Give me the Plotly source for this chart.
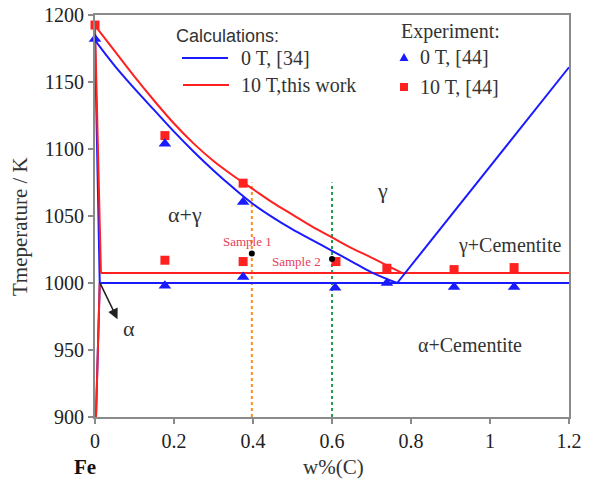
import plotly.graph_objects as go

# ---- Data ----
# Calculated boundaries, 0 T [34]
calc0_a3_x = [0, 0.05, 0.1, 0.15, 0.2, 0.25, 0.3, 0.35, 0.4, 0.45, 0.5, 0.55, 0.6, 0.65, 0.7, 0.765]
calc0_a3_T = [1181, 1162, 1145, 1129, 1113, 1098, 1084, 1071, 1059, 1049, 1040, 1032, 1024, 1016, 1008, 1000]
calc0_acm_x = [0.765, 1.2]
calc0_acm_T = [1000, 1161]
calc0_left_x = [0, 0.012]
calc0_left_T = [1181, 1000]
calc0_solvus_x = [0.012, 0.0025]
calc0_solvus_T = [1000, 900]
calc0_eut_x = [0.012, 1.2]
calc0_eut_T = [1000, 1000]

# Calculated boundaries, 10 T (this work)
calc10_a3_x = [0, 0.05, 0.1, 0.15, 0.2, 0.25, 0.3, 0.35, 0.4, 0.45, 0.5, 0.55, 0.6, 0.65, 0.7, 0.777]
calc10_a3_T = [1192, 1173, 1154, 1136, 1119, 1104, 1091, 1080, 1070, 1060, 1051, 1042, 1034, 1026, 1019, 1007.5]
calc10_left_x = [0, 0.015]
calc10_left_T = [1192, 1007.5]
calc10_solvus_x = [0.012, 0.0025]
calc10_solvus_T = [1000, 900]
calc10_eut_x = [0.015, 1.2]
calc10_eut_T = [1007.5, 1007.5]

# Experiment [44]
exp0_x = [0, 0.177, 0.375, 0.177, 0.375, 0.608, 0.739, 0.909, 1.061]
exp0_T = [1182, 1104, 1060.5, 998, 1004.5, 996.5, 1000, 997, 997]
exp10_x = [0, 0.177, 0.375, 0.177, 0.375, 0.61, 0.739, 0.909, 1.061]
exp10_T = [1192.5, 1110, 1074.5, 1017, 1016, 1016, 1011, 1010, 1011.5]

# Samples
sample_x = [0.397, 0.6]
sample_T = [1022, 1018]
sample_labels = ["Sample 1", "Sample 2"]
sample_label_x = [0.385, 0.511]
sample_label_T = [1031, 1016]
sample_line_top = [1075, 1075]
sample_line_colors = ["#ff8c1a", "#1fa04a"]

x_ticks = [0, 0.2, 0.4, 0.6, 0.8, 1.0, 1.2]
x_ticktext = ["0", "0.2", "0.4", "0.6", "0.8", "1", "1.2"]
y_ticks = [900, 950, 1000, 1050, 1100, 1150, 1200]

BLUE = "#1a1aff"
RED = "#ff2020"
SERIF = "Liberation Serif"
SANS = "Liberation Sans"

fig = go.Figure()

def line(x, y, color, shape="linear"):
    fig.add_trace(go.Scatter(x=x, y=y, mode="lines",
                             line=dict(color=color, width=2, shape=shape, smoothing=1.0),
                             showlegend=False, hoverinfo="skip"))

# sample vertical dotted lines
for sx, top, c in zip(sample_x, sample_line_top, sample_line_colors):
    fig.add_trace(go.Scatter(x=[sx, sx], y=[900, top], mode="lines",
                             line=dict(color=c, width=2, dash="dot"),
                             showlegend=False, hoverinfo="skip"))

line(calc0_solvus_x, calc0_solvus_T, BLUE)
line(calc10_solvus_x, calc10_solvus_T, RED)
line(calc0_left_x, calc0_left_T, BLUE)
line(calc10_left_x, calc10_left_T, RED)
line(calc10_eut_x, calc10_eut_T, RED)
line(calc0_eut_x, calc0_eut_T, BLUE)
line(calc10_a3_x, calc10_a3_T, RED, "spline")
line(calc0_a3_x, calc0_a3_T, BLUE, "spline")
line(calc0_acm_x, calc0_acm_T, BLUE)

fig.add_trace(go.Scatter(x=exp10_x, y=exp10_T, mode="markers",
                         marker=dict(symbol="square", size=9, color=RED),
                         cliponaxis=False, showlegend=False))
fig.add_trace(go.Scatter(x=exp0_x, y=exp0_T, mode="markers",
                         marker=dict(symbol="triangle-up", size=11, color=BLUE),
                         cliponaxis=False, showlegend=False))
fig.add_trace(go.Scatter(x=sample_x, y=sample_T, mode="markers",
                         marker=dict(size=6, color="black"),
                         cliponaxis=False, showlegend=False))

ann = []
def txt(x, y, s, size=19, color="#333", font=SERIF, xref="x", yref="y", xanchor="center", **kw):
    ann.append(dict(x=x, y=y, xref=xref, yref=yref, text=s, showarrow=False,
                    xanchor=xanchor, yanchor="middle",
                    font=dict(family=font, size=size, color=color), **kw))

# phase labels
txt(0.228, 1051, "α+γ", size=22)
txt(0.727, 1069, "γ", size=22)
txt(1.05, 1028, "γ+Cementite", size=20)
txt(0.95, 954, "α+Cementite", size=20)
txt(0.085, 966, "α", size=22)
for sx, sy, s in zip(sample_label_x, sample_label_T, sample_labels):
    txt(sx, sy, s, size=13, color="#e8405a")

# arrow to alpha region
ann.append(dict(x=0.057, y=973, ax=0.011, ay=1001, xref="x", yref="y", axref="x", ayref="y",
                text="", showarrow=True, arrowhead=2, arrowsize=1.3, arrowwidth=1.6,
                arrowcolor="#222"))

# legend (manual)
def xp(px):
    return (px - 95) / 474.0
def yp(py):
    return (417 - py) / 402.0

txt(xp(227), yp(36), "Calculations:", size=18, font=SANS, xref="paper", yref="paper")
txt(xp(239), yp(58), "0 T, [34]", size=20, xref="paper", yref="paper", xanchor="left")
txt(xp(239), yp(85), "10 T,this work", size=20, xref="paper", yref="paper", xanchor="left")
txt(xp(450), yp(31), "Experiment:", size=20, xref="paper", yref="paper")
txt(xp(418), yp(57), "0 T, [44]", size=20, xref="paper", yref="paper", xanchor="left")
txt(xp(418), yp(87), "10 T, [44]", size=20, xref="paper", yref="paper", xanchor="left")

# axis titles
txt(xp(20), yp(227), "Tmeperature / K", size=21, xref="paper", yref="paper", textangle=-90)
txt(xp(333), yp(467), "w%(C)", size=21, xref="paper", yref="paper")
txt(xp(85), yp(467), "<b>Fe</b>", size=21, color="#111", xref="paper", yref="paper")

shapes = [
    dict(type="line", xref="paper", yref="paper", x0=xp(182), x1=xp(228), y0=yp(58), y1=yp(58),
         line=dict(color=BLUE, width=2)),
    dict(type="line", xref="paper", yref="paper", x0=xp(183), x1=xp(229), y0=yp(85), y1=yp(85),
         line=dict(color=RED, width=2)),
    dict(type="path", xref="paper", yref="paper",
         path=f"M {xp(399.5)} {yp(61)} L {xp(408.5)} {yp(61)} L {xp(404)} {yp(53)} Z",
         fillcolor=BLUE, line=dict(color=BLUE, width=0)),
    dict(type="rect", xref="paper", yref="paper", x0=xp(400), x1=xp(408), y0=yp(91), y1=yp(83),
         fillcolor=RED, line=dict(color=RED, width=0)),
]

axis_common = dict(showline=True, linecolor="#8a8a8a", linewidth=2, mirror=True,
                   ticks="outside", ticklen=5, tickwidth=1.5, tickcolor="#8a8a8a",
                   showgrid=False, zeroline=False, automargin=False,
                   tickfont=dict(family=SERIF, size=20, color="#222"))

fig.update_layout(
    width=589, height=483,
    margin=dict(l=95, r=20, t=15, b=66),
    paper_bgcolor="white", plot_bgcolor="white",
    xaxis=dict(range=[0, 1.2], tickvals=x_ticks, ticktext=x_ticktext, **axis_common),
    yaxis=dict(range=[900, 1200], tickvals=y_ticks, **axis_common),
    annotations=ann, shapes=shapes, showlegend=False,
)

fig.write_html("out.html")
